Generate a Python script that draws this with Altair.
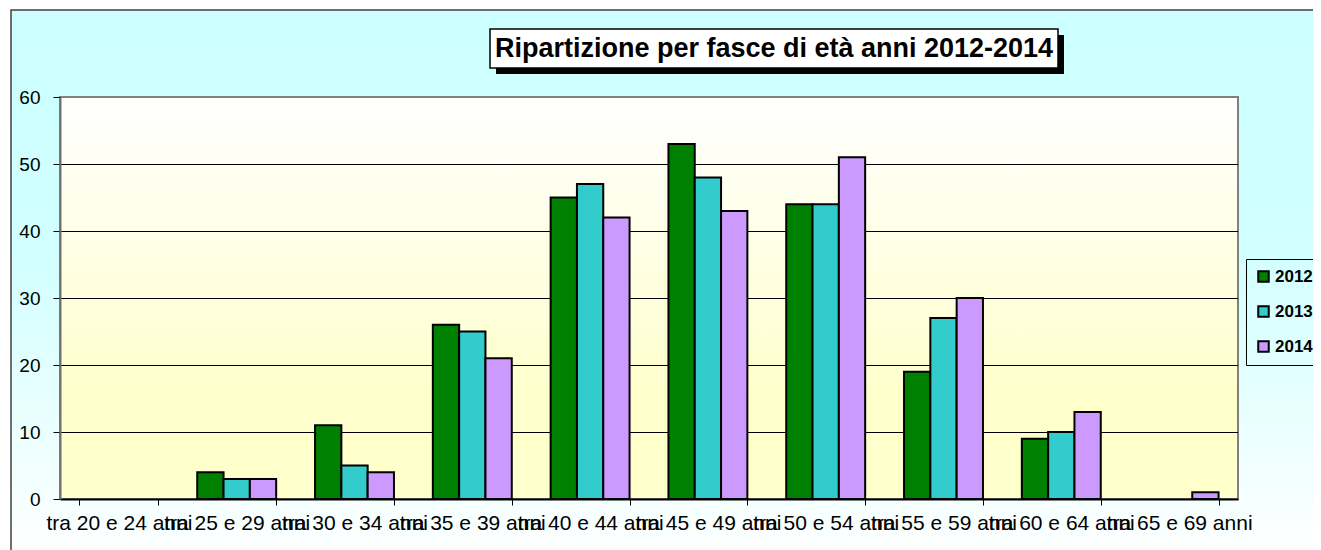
import altair as alt
import pandas as pd

categories = ["tra 20 e 24 anni", "tra 25 e 29 anni", "tra 30 e 34 anni", "tra 35 e 39 anni",
              "tra 40 e 44 anni", "tra 45 e 49 anni", "tra 50 e 54 anni", "tra 55 e 59 anni",
              "tra 60 e 64 anni", "tra 65 e 69 anni"]
years = ["2012", "2013", "2014"]
v2012 = [0, 4, 11, 26, 45, 53, 44, 19, 9, 0]
v2013 = [0, 3, 5, 25, 47, 48, 44, 27, 10, 0]
v2014 = [0, 3, 4, 21, 42, 43, 51, 30, 13, 1]
colors = ["#008000", "#33cccc", "#cc99ff"]
y_ticks = [0, 10, 20, 30, 40, 50, 60]
grid_vals = [10, 20, 30, 40, 50]
title_text = "Ripartizione per fasce di età anni 2012-2014"

rows = []
for yr, vals in zip(years, [v2012, v2013, v2014]):
    for c, v in zip(categories, vals):
        rows.append({"fascia": c, "anno": yr, "valore": v})
df = pd.DataFrame(rows)
grid_df = pd.DataFrame({"valore": grid_vals})
dummy = pd.DataFrame({"d": [0]})

W, H = 1178, 402
FONT = "Liberation Sans"

y_axis = alt.Axis(values=y_ticks, title=None, grid=False, domainColor="#707070",
                  domainWidth=2, tickColor="black", tickSize=7, labelFontSize=19,
                  labelPadding=13, labelColor="black", labelFont=FONT, zindex=1)
y_scale = alt.Scale(domain=[0, 60], nice=False)

outer_bg = alt.Chart(dummy).mark_rect(
    fill=alt.LinearGradient(
        gradient="linear",
        stops=[alt.GradientStop(color="#ccffff", offset=0),
               alt.GradientStop(color="#d2ffff", offset=0.45),
               alt.GradientStop(color="#ffffff", offset=1)],
        x1=0, x2=0, y1=0, y2=1),
    stroke="#404040", strokeWidth=1.5
).encode(x=alt.value(-49), x2=alt.value(1280), y=alt.value(-87), y2=alt.value(465))

plot_bg = alt.Chart(dummy).mark_rect(
    fill=alt.LinearGradient(
        gradient="linear",
        stops=[alt.GradientStop(color="#ffffff", offset=0),
               alt.GradientStop(color="#ffffcc", offset=0.75),
               alt.GradientStop(color="#ffffcc", offset=1)],
        x1=0, x2=0, y1=0, y2=1),
    stroke="#808080", strokeWidth=2
).encode(x=alt.value(0), x2=alt.value(W), y=alt.value(0), y2=alt.value(H))

grid = alt.Chart(grid_df).mark_rule(color="black", strokeWidth=1, yOffset=0.5).encode(
    y=alt.Y("valore:Q", axis=y_axis, scale=y_scale),
    x=alt.value(0), x2=alt.value(W)
)

bars = alt.Chart(df).mark_bar(stroke="black", strokeWidth=2).encode(
    x=alt.X("fascia:N", sort=categories,
            scale=alt.Scale(paddingInner=0.33, paddingOuter=0.165),
            axis=alt.Axis(title=None, labelAngle=0, labelOverlap=False, labelLimit=0,
                          labelFontSize=21, labelColor="black", labelFont=FONT,
                          domainColor="black", domainWidth=2, tickColor="black",
                          tickSize=6, tickBand="extent", labelPadding=7, zindex=1)),
    xOffset=alt.XOffset("anno:N", sort=years, scale=alt.Scale(paddingInner=0, paddingOuter=0)),
    y=alt.Y("valore:Q", scale=y_scale, axis=y_axis),
    strokeOpacity=alt.condition(alt.datum.valore > 0, alt.value(1), alt.value(0)),
    color=alt.Color("anno:N", sort=years,
                    scale=alt.Scale(domain=years, range=colors),
                    legend=alt.Legend(orient="none", legendX=1186, legendY=162, title=None,
                                      strokeColor="black", padding=9,
                                      symbolType="square", symbolSize=110,
                                      symbolStrokeColor="black", symbolStrokeWidth=2,
                                      symbolOpacity=1,
                                      labelFont=FONT, labelFontWeight="bold",
                                      labelFontSize=17, labelColor="black",
                                      rowPadding=16, labelOffset=3, zindex=1))
)

shadow = alt.Chart(dummy).mark_rect(fill="black").encode(
    x=alt.value(436), x2=alt.value(1004), y=alt.value(-62), y2=alt.value(-23))
tbox = alt.Chart(dummy).mark_rect(fill="white", stroke="black", strokeWidth=1.5).encode(
    x=alt.value(430), x2=alt.value(998), y=alt.value(-68), y2=alt.value(-29))
ttext = alt.Chart(dummy).mark_text(
    text=title_text, font=FONT, fontSize=27, fontWeight="bold", color="black",
    align="center", baseline="middle"
).encode(x=alt.value(714), y=alt.value(-48))

chart = alt.layer(outer_bg, plot_bg, grid, bars, shadow, tbox, ttext).properties(
    width=W, height=H,
    padding={"left": 52, "top": 89, "right": 75, "bottom": 51},
    autosize=alt.AutoSizeParams(type="none"),
    background="white"
).configure_view(stroke=None)

chart.save("out.html", embed_options={"renderer": "svg", "actions": False})
